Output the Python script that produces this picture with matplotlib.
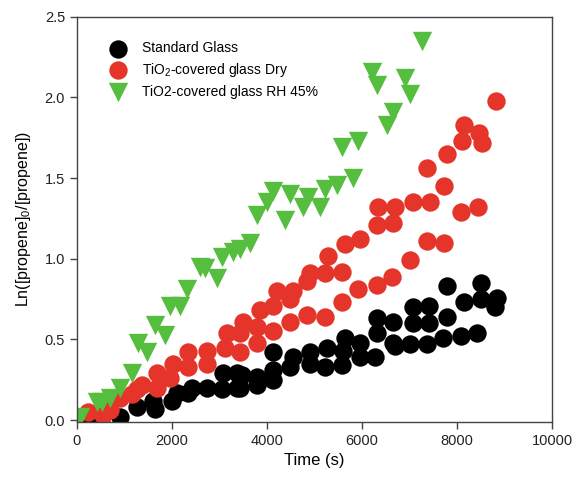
import matplotlib.pyplot as plt

plt.rcParams['font.family'] = ['Liberation Sans', 'DejaVu Sans']

# Standard glass (black circles)
std_t = [250, 500, 905, 1263, 1600, 1642, 2000, 2105, 2337, 2421, 2737, 3052, 3073,
         3368, 3368, 3473, 3431, 3789, 3789, 4126, 4126, 4126, 4484, 4547, 4905,
         4905, 5221, 5263, 5579, 5600, 5642, 5958, 5958, 6273, 6315, 6315, 6652,
         6652, 6694, 7010, 7073, 7073, 7368, 7410, 7410, 7705, 7789, 7789, 8084,
         8147, 8420, 8505, 8505, 8842, 8800]
std_y = [0.00, 0.01, 0.02, 0.08, 0.12, 0.07, 0.12, 0.17, 0.17, 0.20, 0.20, 0.19, 0.29,
         0.20, 0.29, 0.28, 0.20, 0.27, 0.22, 0.42, 0.31, 0.25, 0.33, 0.39, 0.42,
         0.35, 0.33, 0.45, 0.34, 0.43, 0.51, 0.48, 0.39, 0.39, 0.63, 0.54, 0.61,
         0.48, 0.46, 0.47, 0.70, 0.60, 0.47, 0.71, 0.60, 0.51, 0.83, 0.64, 0.52,
         0.73, 0.54, 0.85, 0.75, 0.76, 0.70]

# TiO2-covered glass, dry (red circles)
dry_t = [232, 547, 695, 905, 1158, 1263, 1368, 1684, 1684, 1958, 2021, 2337, 2337,
         2737, 2737, 3115, 3158, 3431, 3431, 3494, 3789, 3789, 3852, 4126, 4126,
         4210, 4484, 4484, 4547, 4842, 4842, 4905, 5221, 5221, 5284, 5579, 5579,
         5642, 5958, 5915, 6315, 6315, 6336, 6631, 6652, 6694, 7010, 7073, 7368,
         7368, 7431, 7726, 7726, 7789, 8084, 8105, 8147, 8442, 8463, 8526, 8820]
dry_y = [0.05, 0.03, 0.06, 0.14, 0.16, 0.19, 0.22, 0.29, 0.20, 0.26, 0.35, 0.42, 0.33,
         0.43, 0.35, 0.45, 0.54, 0.54, 0.42, 0.61, 0.58, 0.48, 0.68, 0.71, 0.55,
         0.80, 0.75, 0.61, 0.80, 0.86, 0.65, 0.91, 0.91, 0.64, 1.02, 0.92, 0.73,
         1.09, 1.12, 0.81, 1.21, 0.84, 1.32, 0.89, 1.22, 1.32, 0.99, 1.35, 1.56,
         1.11, 1.35, 1.45, 1.10, 1.65, 1.29, 1.73, 1.83, 1.32, 1.78, 1.72, 1.98]

# TiO2-covered glass, RH 45% (green triangles)
rh_t = [63, 421, 526, 695, 905, 1158, 1284, 1473, 1642, 1852, 1958, 2168, 2315,
        2589, 2694, 2947, 3052, 3284, 3431, 3642, 3789, 4000, 4126, 4379, 4484,
        4758, 4863, 5115, 5221, 5473, 5810, 5579, 5916, 6526, 6652, 6210, 6315,
        6905, 7010, 7263]
rh_y = [0.02, 0.11, 0.11, 0.14, 0.20, 0.29, 0.48, 0.42, 0.59, 0.53, 0.71, 0.71, 0.81,
        0.95, 0.94, 0.88, 1.01, 1.04, 1.06, 1.10, 1.27, 1.35, 1.42, 1.24, 1.40,
        1.32, 1.38, 1.32, 1.43, 1.46, 1.50, 1.69, 1.73, 1.83, 1.91, 2.16, 2.08,
        2.12, 2.02, 2.35]

fig = plt.figure(figsize=(5.74, 4.78), dpi=100)
ax = fig.add_axes([0.134, 0.117, 0.828, 0.848])

ax.scatter(std_t, std_y, s=175, c='black', marker='o', linewidths=0,
           label='Standard Glass')
ax.scatter(dry_t, dry_y, s=175, c='#e5352b', marker='o', linewidths=0,
           label=r'TiO$_\mathregular{2}$-covered glass Dry')
ax.scatter(rh_t, rh_y, s=195, c='#55be3e', marker='v', linewidths=0,
           label='TiO2-covered glass RH 45%')

ax.set_xlim(0, 10000)
ax.set_ylim(-0.012, 2.5)
ax.set_xticks([0, 2000, 4000, 6000, 8000, 10000])
ax.set_yticks([0.0, 0.5, 1.0, 1.5, 2.0, 2.5])
ax.set_yticklabels(['0.0', '0.5', '1.0', '1.5', '2.0', '2.5'])

for sp in ax.spines.values():
    sp.set_color('#444444')
    sp.set_linewidth(1.0)
ax.tick_params(direction='out', length=5, width=1, color='#444444',
               labelsize=10.5, labelcolor='#222222')

ax.set_xlabel('Time (s)', fontsize=12, labelpad=4)
ax.set_ylabel(r'Ln([propene]$_\mathregular{0}$/[propene])', fontsize=11.5, labelpad=8)

ax.legend(loc='upper left', bbox_to_anchor=(0.03, 0.97), frameon=False, fontsize=10,
          handletextpad=0.75, labelspacing=0.4, scatterpoints=1)

fig.savefig('out.png', dpi=100)
